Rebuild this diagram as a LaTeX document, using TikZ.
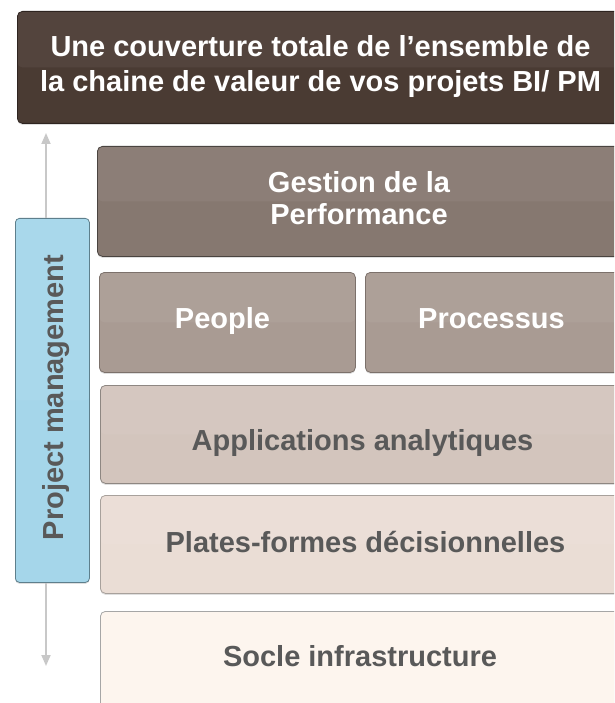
\documentclass[tikz,border=0pt]{standalone}
\usepackage{fontspec}
\setmainfont{Liberation Sans}
\usetikzlibrary{arrows.meta,shadows}
\definecolor{cTop}{HTML}{4A3B33}
\definecolor{cTopD}{HTML}{2E2420}
\definecolor{cGes}{HTML}{867870}
\definecolor{cGesD}{HTML}{4A4440}
\definecolor{cPeo}{HTML}{A99B93}
\definecolor{cPeoD}{HTML}{7C716B}
\definecolor{cApp}{HTML}{D3C5BD}
\definecolor{cAppD}{HTML}{8E8782}
\definecolor{cPla}{HTML}{EADDD5}
\definecolor{cPlaD}{HTML}{A8A19C}
\definecolor{cSoc}{HTML}{FDF5EE}
\definecolor{cSocD}{HTML}{A6A6A6}
\definecolor{cBlue}{HTML}{A5D6EA}
\definecolor{cBlueD}{HTML}{5E7F8C}
\definecolor{cTxt}{HTML}{595959}
\definecolor{cArr}{HTML}{C8C8C8}
\tikzset{
  blk/.style={draw=#1, rounded corners=5pt, line width=0.8pt, inner sep=0pt,
    anchor=north west,
    drop shadow={opacity=0.25, shadow xshift=0pt, shadow yshift=-1.5pt},
    path picture={\fill[white,opacity=0.05] (path picture bounding box.north west) rectangle (path picture bounding box.east);}},
  lbl/.style={font=\fontsize{29}{35}\selectfont\bfseries, inner sep=0pt},
  arr/.style={draw=cArr, line width=1.8pt, -{Triangle[width=9pt,length=11pt]}},
}
\begin{document}
\begin{tikzpicture}[x=1pt,y=-1pt]
\useasboundingbox (0,0) rectangle (614,703);
\clip (0,0) rectangle (614,703);
% boxes
\node[blk=cTopD, fill=cTop, minimum width=605pt, minimum height=112pt] (top) at (17,11) {};
\node[blk=cGesD, fill=cGes, minimum width=525pt, minimum height=110pt] (ges) at (97,146) {};
\node[blk=cPeoD, fill=cPeo, minimum width=256pt, minimum height=100pt] (peo) at (99,272) {};
\node[blk=cPeoD, fill=cPeo, minimum width=257pt, minimum height=100pt] (pro) at (365,272) {};
\node[blk=cAppD, fill=cApp, minimum width=522pt, minimum height=98pt] (app) at (100,385) {};
\node[blk=cPlaD, fill=cPla, minimum width=522pt, minimum height=98pt] (pla) at (100,495) {};
\node[blk=cSocD, fill=cSoc, minimum width=522pt, minimum height=100pt] (soc) at (100,611) {};
% arrows behind the project management bar
\coordinate (atop) at (46,133);
\coordinate (abot) at (46,666);
\node[blk=cBlueD, fill=cBlue, minimum width=74pt, minimum height=364pt, rounded corners=4pt, drop shadow={opacity=0}] (pm) at (15,218) {};
\draw[arr] (atop |- pm.north) -- (atop);
\draw[arr] (abot |- pm.south) -- (abot);
% texts
\node[lbl, text=white, align=center] (ttop) at (320.5,67) {Une couverture totale de l’ensemble de\\la chaine de valeur de vos projets BI/ PM};
\node[lbl, text=white, align=center, font=\fontsize{29}{32}\selectfont\bfseries] (tges) at (359,198.4) {Gestion de la\\Performance};
\node[lbl, text=white, anchor=base] (tpeo) at (222.5,328) {People};
\node[lbl, text=white, anchor=base] (tpro) at (491.5,328) {Processus};
\node[lbl, text=cTxt, anchor=base] (tapp) at (362.5,450) {Applications analytiques};
\node[lbl, text=cTxt, anchor=base] (tpla) at (365.5,552) {Plates-formes décisionnelles};
\node[lbl, text=cTxt, anchor=base] (tsoc) at (360,666) {Socle infrastructure};
\node[lbl, text=cTxt, anchor=base, rotate=90] (tpm) at (63,397.5) {Project management};
\end{tikzpicture}
\end{document}
